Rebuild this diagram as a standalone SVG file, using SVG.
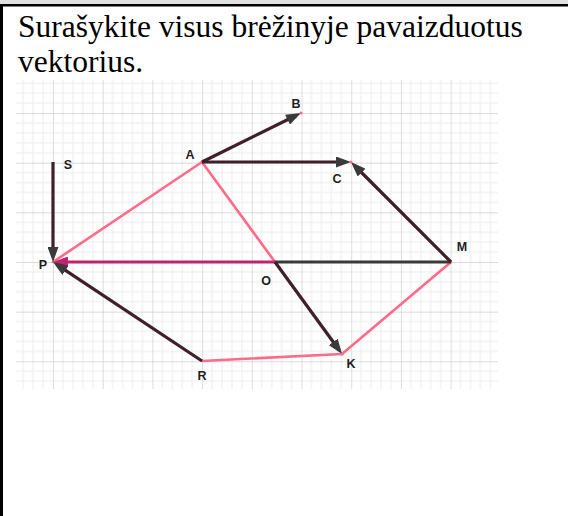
<svg xmlns="http://www.w3.org/2000/svg" width="568" height="516" viewBox="0 0 568 516">
  <style>
    .lbl { font-family: "Liberation Sans", Arial, sans-serif; font-weight: bold; font-size: 12.5px; fill: #1e1e1e; text-anchor: middle; }
    .pink { stroke: #ff6b88; stroke-width: 2.6; fill: none; stroke-linecap: round; }
    .vec { stroke: #3e1f2a; stroke-width: 3.2; fill: none; marker-end: url(#ah); }
    .mag { stroke: #c0246c; stroke-width: 3.2; fill: none; marker-end: url(#ahm); }
    .seg { stroke: #3a3a3a; stroke-width: 3; fill: none; }
    .pt { fill: #ff6b88; }
  </style>
  <defs>
    <pattern id="grid" patternUnits="userSpaceOnUse" x="53" y="262" width="49.7" height="49.65">
      <g stroke="#ebebeb" stroke-width="1">
        <line x1="9.94" y1="0" x2="9.94" y2="49.65"/>
        <line x1="19.88" y1="0" x2="19.88" y2="49.65"/>
        <line x1="29.82" y1="0" x2="29.82" y2="49.65"/>
        <line x1="39.76" y1="0" x2="39.76" y2="49.65"/>
        <line x1="0" y1="9.93" x2="49.7" y2="9.93"/>
        <line x1="0" y1="19.86" x2="49.7" y2="19.86"/>
        <line x1="0" y1="29.79" x2="49.7" y2="29.79"/>
        <line x1="0" y1="39.72" x2="49.7" y2="39.72"/>
      </g>
      <g stroke="#cfcfcf" stroke-width="1.4">
        <line x1="0" y1="0" x2="0" y2="49.65"/>
        <line x1="0" y1="0" x2="49.7" y2="0"/>
      </g>
    </pattern>
    <marker id="ah" markerUnits="userSpaceOnUse" markerWidth="15" markerHeight="11" viewBox="0 0 15 11" refX="10" refY="5.5" orient="auto">
      <path d="M0,0 L15,5.5 L0,11 Z" fill="#3a3a3a"/>
    </marker>
    <marker id="ahm" markerUnits="userSpaceOnUse" markerWidth="15" markerHeight="11" viewBox="0 0 15 11" refX="10" refY="5.5" orient="auto">
      <path d="M0,0 L15,5.5 L0,11 Z" fill="#c0246c"/>
    </marker>
  </defs>

  <rect x="0" y="0" width="568" height="516" fill="#ffffff"/>
  <rect x="0" y="0" width="568" height="4.5" fill="#e0e0e0"/>
  <rect x="0" y="4" width="568" height="2.5" fill="#000"/>
  <rect x="0" y="4" width="3" height="512" fill="#000"/>

  <text font-family="'Liberation Serif', 'Times New Roman', 'DejaVu Serif', serif" font-size="31.5" fill="#000" x="18" y="37">Surašykite visus brėžinyje pavaizduotus</text>
  <text font-family="'Liberation Serif', 'Times New Roman', 'DejaVu Serif', serif" font-size="31.5" fill="#000" x="18" y="72">vektorius.</text>

  <rect x="16" y="80" width="482" height="309" fill="url(#grid)"/>

  <g id="connectors">
    <line class="pink" x1="202" y1="162" x2="53" y2="262"/>
    <line class="pink" x1="202" y1="162" x2="275" y2="262"/>
    <line class="pink" x1="202" y1="361" x2="342" y2="354"/>
    <line class="pink" x1="342" y1="354" x2="451" y2="262"/>
    <line class="seg" x1="275" y1="262" x2="451" y2="262"/>
    <line class="mag" x1="275" y1="262" x2="58" y2="262"/>
    <line class="vec" x1="53" y1="162" x2="53" y2="257"/>
    <line class="vec" x1="202" y1="162" x2="296.5" y2="115.2"/>
    <line class="vec" x1="202" y1="162" x2="346" y2="162"/>
    <line class="vec" x1="451" y1="262" x2="354.5" y2="165.5"/>
    <line class="vec" x1="275" y1="262" x2="339.1" y2="350"/>
    <line class="vec" x1="202" y1="361" x2="57.2" y2="264.8"/>
  </g>

  <g id="node-S"><text class="lbl" x="68" y="168.5">S</text></g>
  <g id="node-A"><text class="lbl" x="190" y="158.5">A</text></g>
  <g id="node-B"><circle class="pt" cx="301" cy="113" r="1.6"/><text class="lbl" x="296" y="107.5">B</text></g>
  <g id="node-C"><circle class="pt" cx="351" cy="162" r="1.6"/><text class="lbl" x="337" y="182.5">C</text></g>
  <g id="node-M"><text class="lbl" x="462" y="250.5">M</text></g>
  <g id="node-P"><text class="lbl" x="43" y="268.5">P</text></g>
  <g id="node-O"><text class="lbl" x="266" y="284.5">O</text></g>
  <g id="node-K"><circle class="pt" cx="342" cy="354" r="1.6"/><text class="lbl" x="351" y="367.5">K</text></g>
  <g id="node-R"><text class="lbl" x="202" y="379.5">R</text></g>
</svg>
